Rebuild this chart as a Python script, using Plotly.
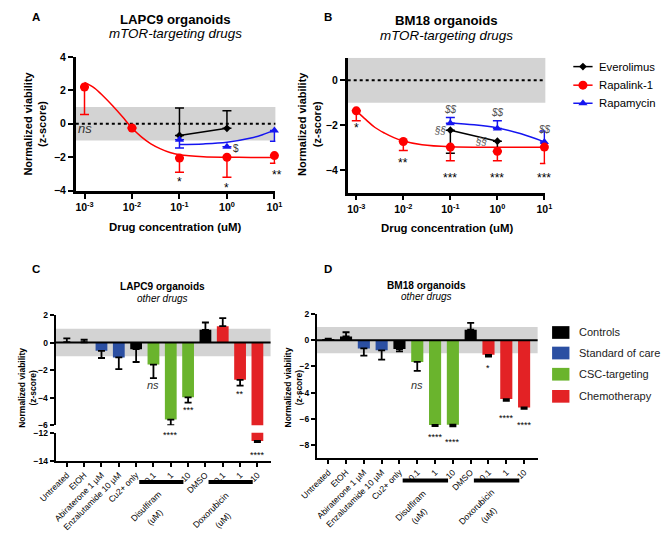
import math
import plotly.graph_objects as go

W, H = 669, 534
FONT = "Liberation Sans, Arial, sans-serif"

# ---------------- Panel A (LAPC9, mTOR-targeting) ----------------
conc_ticks = [0.001, 0.01, 0.1, 1, 10]
conc_tick_text = ["10<sup>-3</sup>", "10<sup>-2</sup>", "10<sup>-1</sup>", "10<sup>0</sup>", "10<sup>1</sup>"]

a_rapalink_conc = [0.001, 0.01, 0.1, 1, 10]
a_rapalink_mean = [2.2, -0.25, -2.05, -2.0, -1.9]
a_rapalink_err = [1.65, 0.0, 0.85, 1.2, 0.45]
a_everolimus_conc = [0.1, 1]
a_everolimus_mean = [-0.7, -0.27]
a_everolimus_err = [1.65, 1.05]
a_rapamycin_conc = [0.1, 1, 10]
a_rapamycin_mean = [-0.95, -1.37, -0.4]
a_rapamycin_err = [0.5, 0.0, 0.65]
a_rapalink_fit_conc = [0.001, 0.0016, 0.0025, 0.004, 0.0063, 0.01, 0.016, 0.025, 0.04, 0.063, 0.1, 0.32, 1, 3.2, 10]
a_rapalink_fit = [2.47, 2.15, 1.65, 1.05, 0.42, -0.25, -0.8, -1.2, -1.5, -1.72, -1.85, -1.97, -2.0, -2.01, -2.02]
a_rapamycin_fit_conc = [0.1, 0.32, 1, 3.2, 5.6, 10]
a_rapamycin_fit = [-1.24, -1.2, -1.1, -0.85, -0.65, -0.38]

# ---------------- Panel B (BM18, mTOR-targeting) ----------------
b_rapalink_conc = [0.001, 0.01, 0.1, 1, 10]
b_rapalink_mean = [-1.36, -2.72, -2.97, -3.16, -2.97]
b_rapalink_err = [0.44, 0.4, 0.61, 0.42, 0.73]
b_everolimus_conc = [0.1, 1]
b_everolimus_mean = [-2.22, -2.71]
b_everolimus_err = [1.03, 0.46]
b_rapamycin_conc = [0.1, 1, 10]
b_rapamycin_mean = [-1.91, -2.14, -2.74]
b_rapamycin_err = [0.26, 0.34, 0.49]
b_rapalink_fit_conc = [0.001, 0.0016, 0.0025, 0.004, 0.0063, 0.01, 0.025, 0.1, 1, 10]
b_rapalink_fit = [-1.36, -1.75, -2.1, -2.35, -2.55, -2.7, -2.87, -2.96, -2.98, -2.98]
b_rapamycin_fit_conc = [0.1, 0.32, 1, 3.2, 10]
b_rapamycin_fit = [-1.9, -1.98, -2.12, -2.38, -2.74]
series_names = ["Everolimus", "Rapalink-1", "Rapamycin"]

# ---------------- Panels C / D (other drugs) ----------------
drug_labels = ["Untreated", "EtOH", "Abiraterone 1 µM", "Enzalutamide 10 µM", "Cu2+ only",
               "0.1", "1", "10", "DMSO", "0.1", "1", "10"]
drug_groups = ["Controls", "Controls", "Standard of care", "Standard of care", "Controls",
               "CSC-targeting", "CSC-targeting", "CSC-targeting", "Controls",
               "Chemotherapy", "Chemotherapy", "Chemotherapy"]
c_values = [0.03, 0.02, -0.6, -1.08, -0.48, -1.6, -5.58, -3.97, 0.92, 1.18, -2.7, -12.55]
c_errors = [0.27, 0.18, 0.52, 0.85, 0.93, 0.98, 0.4, 0.38, 0.53, 0.59, 0.42, 0.08]
d_values = [0.05, 0.28, -0.63, -0.78, -0.68, -1.66, -6.47, -6.45, 0.8, -1.12, -4.5, -5.13]
d_errors = [0.07, 0.32, 0.55, 0.7, 0.18, 0.68, 0.08, 0.13, 0.52, 0.13, 0.13, 0.12]
c_marks = ["", "", "", "", "", "ns", "****", "***", "", "", "**", "****"]
d_marks = ["", "", "", "", "", "ns", "****", "****", "", "*", "****", "****"]
c_mark_y = [None, None, None, None, None, -3.05, -6.55, -4.75, None, None, -3.6, -13.4]
d_mark_y = [None, None, None, None, None, -3.45, -7.2, -7.65, None, -2.0, -5.8, -6.35]
group_names = ["Controls", "Standard of care", "CSC-targeting", "Chemotherapy"]
group_colors = {"Controls": "#000000", "Standard of care": "#2B4FA2",
                "CSC-targeting": "#6AB42D", "Chemotherapy": "#E32225"}

RED, BLUE, BLACK = "#FF0000", "#1515F0", "#000000"
series_style = {"Everolimus": (BLACK, "diamond", 6), "Rapalink-1": (RED, "circle", 9),
                "Rapamycin": (BLUE, "triangle-up", 8)}


def px(xp):
    return xp / W


def py(yp):
    return 1 - yp / H


fig = go.Figure()


def err(arr, up):
    z = [0] * len(arr)
    return dict(type="data", symmetric=False, array=arr if up else z,
                arrayminus=z if up else arr, thickness=1.5, width=4.5)


def add_mtor(xa, ya, rl_c, rl_m, rl_e, ev_c, ev_m, ev_e, ev_up, rp_c, rp_m, rp_e, rp_up,
             rlf_c, rlf, rpf_c, rpf):
    fig.add_trace(go.Scatter(x=rlf_c, y=rlf, mode="lines", line=dict(color=RED, width=1.5, shape="spline"),
                             xaxis=xa, yaxis=ya, showlegend=False, cliponaxis=False, hoverinfo="skip"))
    fig.add_trace(go.Scatter(x=rpf_c, y=rpf, mode="lines", line=dict(color=BLUE, width=1.5, shape="spline"),
                             xaxis=xa, yaxis=ya, showlegend=False, cliponaxis=False, hoverinfo="skip"))
    e = err(ev_e, ev_up); e["color"] = BLACK
    fig.add_trace(go.Scatter(x=ev_c, y=ev_m, mode="lines+markers", line=dict(color=BLACK, width=1.5),
                             marker=dict(color=BLACK, size=6, symbol="diamond"), error_y=e,
                             xaxis=xa, yaxis=ya, showlegend=False, cliponaxis=False))
    e = err(rp_e, rp_up); e["color"] = BLUE
    fig.add_trace(go.Scatter(x=rp_c, y=rp_m, mode="markers",
                             marker=dict(color=BLUE, size=8, symbol="triangle-up"), error_y=e,
                             xaxis=xa, yaxis=ya, showlegend=False, cliponaxis=False))
    e = err(rl_e, False); e["color"] = RED
    fig.add_trace(go.Scatter(x=rl_c, y=rl_m, mode="markers",
                             marker=dict(color=RED, size=9, symbol="circle"), error_y=e,
                             xaxis=xa, yaxis=ya, showlegend=False, cliponaxis=False))


add_mtor("x", "y", a_rapalink_conc, a_rapalink_mean, a_rapalink_err,
         a_everolimus_conc, a_everolimus_mean, a_everolimus_err, True,
         a_rapamycin_conc, a_rapamycin_mean, a_rapamycin_err, False,
         a_rapalink_fit_conc, a_rapalink_fit, a_rapamycin_fit_conc, a_rapamycin_fit)
add_mtor("x2", "y2", b_rapalink_conc, b_rapalink_mean, b_rapalink_err,
         b_everolimus_conc, b_everolimus_mean, b_everolimus_err, False,
         b_rapamycin_conc, b_rapamycin_mean, b_rapamycin_err, True,
         b_rapalink_fit_conc, b_rapalink_fit, b_rapamycin_fit_conc, b_rapamycin_fit)

# manual legend for B on a hidden pixel-space axis (x6/y6)
legend_rows_b = [62, 81, 99.5]
for name, yr in zip(series_names, legend_rows_b):
    col, sym, size = series_style[name]
    fig.add_trace(go.Scatter(x=[577, 597], y=[yr, yr], mode="lines", line=dict(color=col, width=1.5),
                             xaxis="x6", yaxis="y6", showlegend=False, hoverinfo="skip"))
    fig.add_trace(go.Scatter(x=[587], y=[yr], mode="markers", marker=dict(color=col, size=size, symbol=sym),
                             xaxis="x6", yaxis="y6", showlegend=False, hoverinfo="skip"))

# bar panels
idx = list(range(len(drug_labels)))
bar_colors = [group_colors[g] for g in drug_groups]


def add_bars(xa, ya, values, errors, ya_low=None, low_cut=None):
    up = [e if v >= 0 else 0 for v, e in zip(values, errors)]
    dn = [e if v < 0 else 0 for v, e in zip(values, errors)]
    fig.add_trace(go.Bar(x=idx, y=values, width=0.68, marker=dict(color=bar_colors, line=dict(width=0)),
                         error_y=dict(type="data", symmetric=False, array=up, arrayminus=dn,
                                      color="black", thickness=1.8, width=3.5),
                         xaxis=xa, yaxis=ya, showlegend=False))
    if ya_low is not None:
        sel = [i for i, v in enumerate(values) if v < low_cut]
        fig.add_trace(go.Bar(x=[idx[i] for i in sel], y=[values[i] for i in sel], width=0.68,
                             marker=dict(color=[bar_colors[i] for i in sel], line=dict(width=0)),
                             error_y=dict(type="data", symmetric=False, array=[0] * len(sel),
                                          arrayminus=[errors[i] for i in sel],
                                          color="black", thickness=1.8, width=3.5),
                             xaxis=xa, yaxis=ya_low, showlegend=False))


add_bars("x3", "y3", c_values, c_errors, "y4", -6)
add_bars("x5", "y5", d_values, d_errors)

# ---------------- layout / axes ----------------
tick_bold = dict(family=FONT, size=10.5, color="black", weight="bold")
small_bold = dict(family=FONT, size=8.5, color="black", weight="bold")
base_ax = dict(showgrid=False, zeroline=False, showline=True, linecolor="black", ticks="outside",
               tickcolor="black")

layout = dict(
    width=W, height=H, margin=dict(l=0, r=0, t=0, b=0), autosize=False,
    paper_bgcolor="white", plot_bgcolor="rgba(0,0,0,0)", font=dict(family=FONT, color="black"),
    barmode="overlay", showlegend=False,
    xaxis=dict(base_ax, domain=[px(61), px(268)], anchor="y", type="log", range=[-3.183, 1.02],
               tickvals=conc_ticks, ticktext=conc_tick_text, tickfont=tick_bold, linewidth=2.5,
               tickwidth=2, ticklen=5),
    yaxis=dict(base_ax, domain=[py(189), py(52)], anchor="x", range=[-4, 4], tickvals=[-4, -2, 0, 2, 4],
               tickfont=tick_bold, linewidth=2.5, tickwidth=2, ticklen=5),
    xaxis2=dict(base_ax, domain=[px(343), px(548)], anchor="y2", type="log", range=[-3.183, 1.02],
                tickvals=conc_ticks, ticktext=conc_tick_text, tickfont=tick_bold, linewidth=2.5,
                tickwidth=2, ticklen=5),
    yaxis2=dict(base_ax, domain=[py(191), py(53)], anchor="x2", range=[-5, 1], tickvals=[-4, -2, 0],
                tickfont=tick_bold, linewidth=2.5, tickwidth=2, ticklen=5),
    xaxis3=dict(base_ax, domain=[px(40), px(263)], anchor="y4", range=[-0.65, 11.76], tickvals=idx,
                ticktext=drug_labels, tickangle=-45, tickfont=dict(family=FONT, size=8.5, color="black"),
                linewidth=2, tickwidth=1.5, ticklen=4),
    yaxis3=dict(base_ax, domain=[py(429), py(316)], anchor="x3", range=[-6, 2], tickvals=[-6, -4, -2, 0, 2],
                tickfont=small_bold, linewidth=2, tickwidth=1.5, ticklen=4),
    yaxis4=dict(base_ax, domain=[py(465.3), py(436.5)], anchor="x3", range=[-14, -11.95], tickvals=[-14, -12],
                tickfont=small_bold, linewidth=2, tickwidth=1.5, ticklen=4),
    xaxis5=dict(base_ax, domain=[px(311), px(540)], anchor="y5", range=[-0.64, 11.76], tickvals=idx,
                ticktext=drug_labels, tickangle=-45, tickfont=dict(family=FONT, size=8.5, color="black"),
                linewidth=2, tickwidth=1.5, ticklen=4),
    yaxis5=dict(base_ax, domain=[py(462.5), py(315)], anchor="x5", range=[-9, 2],
                tickvals=[-8, -6, -4, -2, 0, 2], tickfont=small_bold, linewidth=2, tickwidth=1.5, ticklen=4),
    xaxis6=dict(domain=[0, 1], range=[0, W], visible=False, anchor="y6", fixedrange=True),
    yaxis6=dict(domain=[0, 1], range=[H, 0], visible=False, anchor="x6", fixedrange=True),
)
fig.update_layout(**layout)

shapes = []
GRAY = "#D3D3D3"
for xa, ya in [("x", "y"), ("x2", "y2")]:
    shapes.append(dict(type="rect", xref=f"{xa} domain", yref=ya, x0=0, x1=1, y0=-1, y1=1,
                       fillcolor=GRAY, line=dict(width=0), layer="below"))
    shapes.append(dict(type="line", xref=f"{xa} domain", yref=ya, x0=0, x1=1, y0=0, y1=0,
                       line=dict(color="black", width=2, dash="dot"), layer="below"))
for xa, ya in [("x3", "y3"), ("x5", "y5")]:
    shapes.append(dict(type="rect", xref=f"{xa} domain", yref=ya, x0=0, x1=1, y0=-1, y1=1,
                       fillcolor=GRAY, line=dict(width=0), layer="below"))
    shapes.append(dict(type="line", xref=f"{xa} domain", yref=ya, x0=0, x1=1, y0=0, y1=0,
                       line=dict(color="black", width=2), layer="above"))

# group underline bars below the dose tick labels
dose_groups = [("Disulfiram", [5, 6, 7]), ("Doxorubicin", [9, 10, 11])]
for xa, yline in [("x3", 487), ("x5", 485.5)]:
    for name, members in dose_groups:
        shapes.append(dict(type="line", xref=xa, yref="paper", x0=members[0] - 0.82, x1=members[-1] - 0.27,
                           y0=py(yline), y1=py(yline), line=dict(color="black", width=4)))

# D legend swatches
legend_rows = [334, 355, 376.7, 399.3]
for g, yc in zip(group_names, legend_rows):
    shapes.append(dict(type="rect", xref="paper", yref="paper", x0=px(555), x1=px(573),
                       y0=py(yc + 6.5), y1=py(yc - 6.5), fillcolor=group_colors[g], line=dict(width=0)))

annotations = []


def ann(text, x, y, xref="paper", yref="paper", size=11, color="black", bold=False, italic=False,
        xanchor="center", yanchor="middle", angle=0, xshift=0, yshift=0, family=FONT):
    if bold:
        text = f"<b>{text}</b>"
    if italic:
        text = f"<i>{text}</i>"
    annotations.append(dict(text=text, x=x, y=y, xref=xref, yref=yref, showarrow=False,
                            font=dict(family=family, size=size, color=color), xanchor=xanchor,
                            yanchor=yanchor, textangle=angle, xshift=xshift, yshift=yshift))


L10 = math.log10

# panel letters
for L, xx, yy in [("A", 20, 11), ("B", 323, 11), ("C", 20, 269), ("D", 323, 269)]:
    ann(L, px(xx), py(yy), size=11.5, bold=True)

# titles
ann("LAPC9 organoids", px(164), py(13.5), size=13.2, bold=True)
ann("mTOR-targeting drugs", px(164), py(28.5), size=13.4, italic=True)
ann("BM18 organoids", px(445), py(15), size=13.2, bold=True)
ann("mTOR-targeting drugs", px(445), py(30.5), size=13.4, italic=True)
ann("LAPC9 organoids", px(151), py(286.5), size=10.1, bold=True)
ann("other drugs", px(151), py(299), size=10, italic=True)
ann("BM18 organoids", px(425), py(286), size=10.1, bold=True)
ann("other drugs", px(425), py(297.5), size=10, italic=True)

# axis titles
ann("Drug concentration (uM)", px(164), py(226), size=11.4, bold=True)
ann("Drug concentration (uM)", px(446), py(227), size=11.4, bold=True)
ann("Normalized viability<br>(z-score)", px(19), py(120), size=11, bold=True, angle=-90)
ann("Normalized viability<br>(z-score)", px(303.5), py(121), size=11, bold=True, angle=-90)
ann("Normalized viability<br>(z-score)", px(11), py(391), size=8.5, bold=True, angle=-90)
ann("Normalized viability<br>(z-score)", px(286.5), py(390), size=8.5, bold=True, angle=-90)

# B legend texts
for name, yr in zip(series_names, legend_rows_b):
    ann(name, 602, yr, xref="x6", yref="y6", size=11.3, xanchor="left")

# panel A marks (log axis -> annotation x in log10 units)
ann("ns", L10(0.001), -0.3, xref="x", yref="y", size=13, italic=True, color="#333333")
ann("*", L10(0.1), -3.3, xref="x", yref="y", size=12, yshift=-3)
ann("*", L10(1), -3.65, xref="x", yref="y", size=12, yshift=-3)
ann("**", L10(10), -2.9, xref="x", yref="y", size=12, xshift=3, yshift=-3)
ann("$", L10(1), -1.5, xref="x", yref="y", size=10, xshift=9, color="#333333")

# panel B marks
ann("*", L10(0.001), -2.0, xref="x2", yref="y2", size=12, yshift=-3)
ann("**", L10(0.01), -3.55, xref="x2", yref="y2", size=12, yshift=-3)
for c in [0.1, 1, 10]:
    ann("***", L10(c), -4.23, xref="x2", yref="y2", size=12, yshift=-3)
for c, yv in [(0.1, -1.3), (1, -1.45), (10, -2.17)]:
    ann("$$", L10(c), yv, xref="x2", yref="y2", size=10, italic=True, color="#555555")
ann("§§", L10(0.1), -2.25, xref="x2", yref="y2", size=10, italic=True, color="#555555", xshift=-10)
ann("§§", L10(1), -2.74, xref="x2", yref="y2", size=10, italic=True, color="#555555", xshift=-16)


# bar panel marks
def mark_bars(marks, ys, xa, ya_top, top_rng, ya_low=None, low_rng=None):
    for i, (m, yv) in enumerate(zip(marks, ys)):
        if not m:
            continue
        if yv >= top_rng[0]:
            yref, yy = ya_top, yv
        elif low_rng is not None and low_rng[0] <= yv <= low_rng[1]:
            yref, yy = ya_low, yv
        else:
            yref, yy = f"{ya_top} domain", (yv - top_rng[0]) / (top_rng[1] - top_rng[0])
        if m == "ns":
            ann(m, idx[i], yy, xref=xa, yref=yref, size=11, italic=True, color="#333333")
        else:
            ann(m, idx[i], yy, xref=xa, yref=yref, size=9, yshift=-2)


mark_bars(c_marks, c_mark_y, "x3", "y3", (-6, 2), "y4", (-14, -11.95))
mark_bars(d_marks, d_mark_y, "x5", "y5", (-9, 2))

# dose group labels
for xa, ys in [("x3", (512, 523, 516, 526)), ("x5", (511, 521.5, 513, 521))]:
    (d_name, d_mem), (x_name, x_mem) = dose_groups
    ann(d_name, d_mem[0] - 0.4, py(ys[0]), xref=xa, size=8.7, angle=-45)
    ann("(uM)", d_mem[0] + 0.1, py(ys[1]), xref=xa, size=8.7, angle=-45)
    ann(x_name, x_mem[0] - 0.67, py(ys[2]), xref=xa, size=8.7, angle=-45)
    ann("(uM)", x_mem[0] + 0.03, py(ys[3]), xref=xa, size=8.7, angle=-45)

# D legend texts
for g, yc in zip(group_names, legend_rows):
    ann(g, px(581), py(yc), size=11, xanchor="left", color="#222222")

fig.update_layout(shapes=shapes, annotations=annotations)
fig.write_html("out.html", config={"displayModeBar": False},
               post_script="document.body.style.margin='0px';document.body.style.overflow='hidden';")
